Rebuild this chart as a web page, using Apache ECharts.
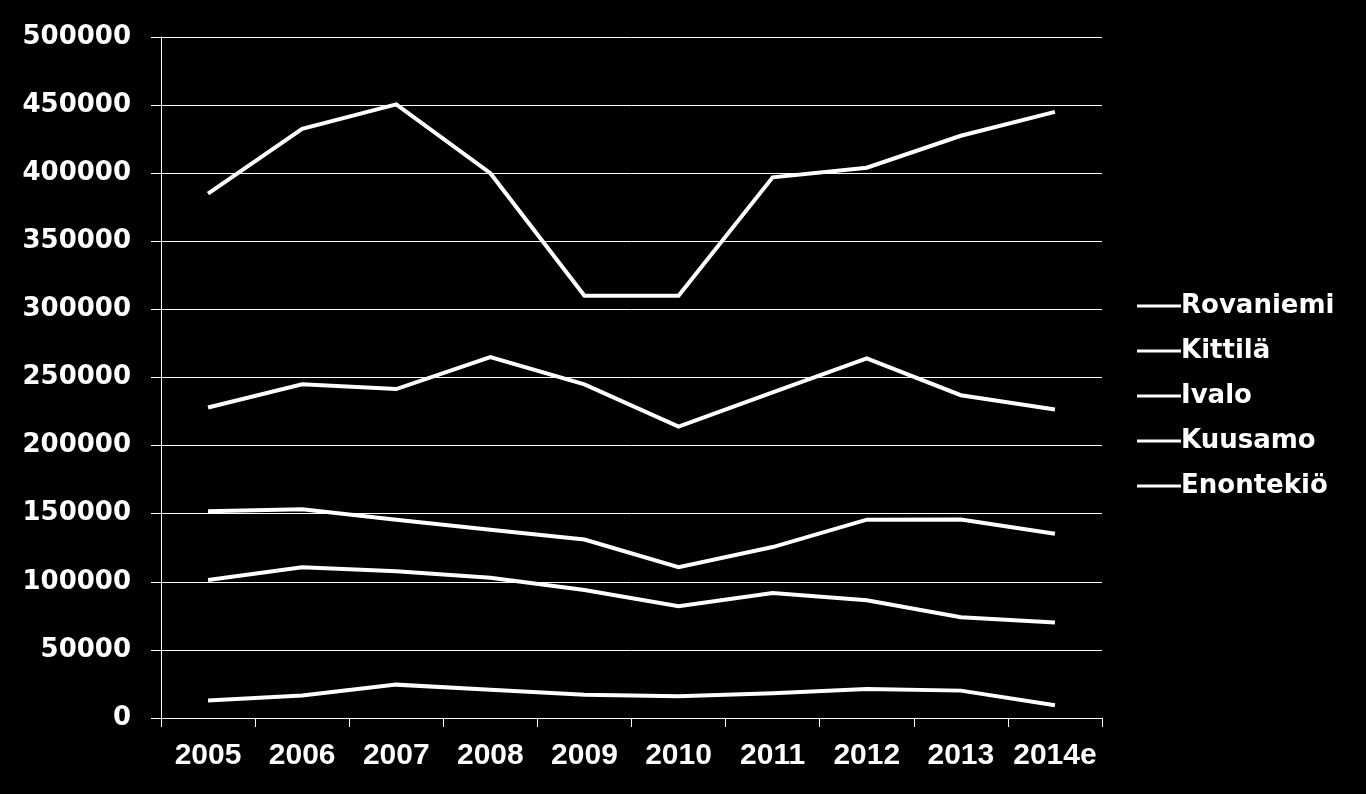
<!DOCTYPE html>
<html>
<head>
<meta charset="utf-8">
<script src="https://cdn.jsdelivr.net/npm/echarts@6/dist/echarts.min.js"></script>
<style>
html,body{margin:0;padding:0;background:#000;}
#chart{width:1366px;height:794px;}
</style>
</head>
<body>
<div id="chart"></div>
<script>
const categories = ['2005','2006','2007','2008','2009','2010','2011','2012','2013','2014e'];
const rovaniemi = [385000, 432500, 450500, 400000, 310000, 310000, 397000, 404000, 427500, 445000];
const kittila   = [228000, 245000, 241500, 265000, 245000, 214000, 239000, 264000, 237000, 226500];
const ivalo     = [151800, 153200, 145500, 138200, 131000, 110800, 125500, 145600, 145800, 135300];
const kuusamo   = [101300, 110600, 107800, 103000, 94000, 82000, 91800, 86500, 74000, 70200];
const enontekio = [12900, 16600, 24500, 20800, 17100, 15900, 18100, 21300, 20100, 9300];
const seriesNames = ['Rovaniemi','Kittilä','Ivalo','Kuusamo','Enontekiö'];
const seriesData = [rovaniemi, kittila, ivalo, kuusamo, enontekio];

const chart = echarts.init(document.getElementById('chart'));
chart.setOption({
  backgroundColor: '#000',
  animation: false,
  grid: {left: 161, right: 264, top: 37, bottom: 76, containLabel: false},
  legend: {
    orient: 'vertical',
    left: 1132,
    top: 288,
    icon: 'rect',
    itemWidth: 44,
    itemHeight: 3,
    itemGap: 19,
    data: seriesNames,
    itemStyle: {color: '#fff'},
    textStyle: {color: '#fff', fontFamily: 'DejaVu Sans', fontWeight: 'bold', fontSize: 26, padding: [0, 0, 0, -5]}
  },
  xAxis: {
    type: 'category',
    data: categories,
    boundaryGap: true,
    axisLine: {lineStyle: {color: '#fff', width: 1}},
    axisTick: {show: true, length: 9, interval: 0, lineStyle: {color: '#fff'}},
    axisLabel: {color: '#fff', fontFamily: 'Liberation Sans', fontWeight: 'bold', fontSize: 30, margin: 23, interval: 0},
    splitLine: {show: false}
  },
  yAxis: {
    type: 'value',
    min: 0,
    max: 500000,
    interval: 50000,
    axisLine: {show: true, lineStyle: {color: '#fff', width: 1}},
    axisTick: {show: true, length: 10, lineStyle: {color: '#fff'}},
    axisLabel: {color: '#fff', fontFamily: 'DejaVu Sans', fontWeight: 'bold', fontSize: 26, margin: 30,
      formatter: v => String(v)},
    splitLine: {show: true, lineStyle: {color: '#fff', width: 1}}
  },
  series: seriesNames.map((n, i) => ({
    name: n,
    type: 'line',
    data: seriesData[i],
    symbol: 'none',
    showSymbol: false,
    lineStyle: {color: '#fff', width: 4, join: 'miter'},
    itemStyle: {color: '#fff'}
  }))
});
</script>
</body>
</html>
